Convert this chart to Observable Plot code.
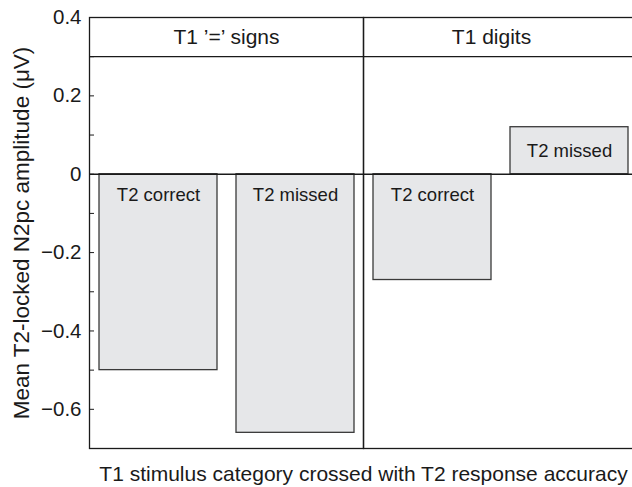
<!DOCTYPE html>
<html><head><meta charset="utf-8">
<script src="https://cdn.jsdelivr.net/npm/d3@7"></script>
<script src="https://cdn.jsdelivr.net/npm/@observablehq/plot@0.6"></script>
<style>html,body{margin:0;padding:0;overflow:hidden;background:#fff}</style>
</head><body><div id="chart"></div>
<script>
const categories = ["T1 ’=’ signs", "T1 digits"];
const accuracy = ["T2 correct", "T2 missed"];
const signsValues = [-0.50, -0.66];
const digitsValues = [-0.27, 0.12];
const yTicks = [0.4, 0.2, 0, -0.2, -0.4, -0.6];
const yMinorTicks = [0.3, 0.1, -0.1, -0.3, -0.5];
const xTitle = "T1 stimulus category crossed with T2 response accuracy";
const yTitle = "Mean T2-locked N2pc amplitude (μV)";

const rows = [
  ...accuracy.map((a, i) => ({category: categories[0], accuracy: a, value: signsValues[i]})),
  ...accuracy.map((a, i) => ({category: categories[1], accuracy: a, value: digitsValues[i]}))
];
const fmt = d => d === 0 ? "0" : (d < 0 ? "\u2212" : "") + Math.abs(d).toFixed(1);
const font = "'Liberation Sans', Arial, Helvetica, sans-serif";
const ink = "#1a1a1a";
const chart = Plot.plot({
  width: 640, height: 487,
  marginLeft: 88, marginRight: 3, marginTop: 17, marginBottom: 39,
  style: {fontFamily: font, fontSize: "21px", color: ink, background: "#fff", overflow: "visible", maxWidth: "none"},
  fx: {domain: categories, padding: 0, axis: null},
  x: {domain: accuracy, paddingInner: 0.14, paddingOuter: 0.07, axis: null},
  y: {domain: [-0.7, 0.4], axis: null},
  marks: [
    Plot.barY(rows, {fx: "category", x: "accuracy", y: "value", fill: "#e6e7e9", stroke: "#3a3a3a", strokeWidth: 1.3}),
    Plot.text(rows.filter(d => d.value < 0), {fx: "category", x: "accuracy", y: 0, text: "accuracy", lineAnchor: "top", dy: 14, fontSize: 18.5, fill: ink}),
    Plot.text(rows.filter(d => d.value >= 0), {fx: "category", x: "accuracy", y: d => d.value / 2, text: "accuracy", lineAnchor: "middle", fontSize: 18.5, fill: ink}),
    Plot.ruleY([0, 0.3], {stroke: ink, strokeWidth: 1.3}),
    Plot.frame({stroke: ink, strokeWidth: 1.3}),
    Plot.text([categories[0]], {fx: d => d, y: 0.35, text: d => d, lineAnchor: "middle", fontSize: 21, fill: ink}),
    Plot.text([categories[1]], {fx: d => d, y: 0.35, text: d => d, lineAnchor: "middle", fontSize: 21, fill: ink, dx: -9}),
    Plot.axisY(yTicks, {anchor: "left", tickSize: -5, tickPadding: 13, fontSize: 20.5, tickFormat: fmt, stroke: ink, fill: ink, label: null}),
    Plot.axisY(yMinorTicks, {anchor: "left", tickSize: -5, tickFormat: () => "", label: null, stroke: ink}),
    Plot.axisY([], {anchor: "left", tickSize: 0, label: yTitle, labelAnchor: "center", labelOffset: 76, labelArrow: "none", fontSize: 22.5, fill: ink}),
    Plot.axisFx({anchor: "bottom", tickSize: 0, tickFormat: () => "", label: xTitle, labelAnchor: "center", labelOffset: 32, fontSize: 21, fill: ink, labelArrow: "none"})
  ]
});
document.getElementById("chart").append(chart);
</script>
</body></html>
